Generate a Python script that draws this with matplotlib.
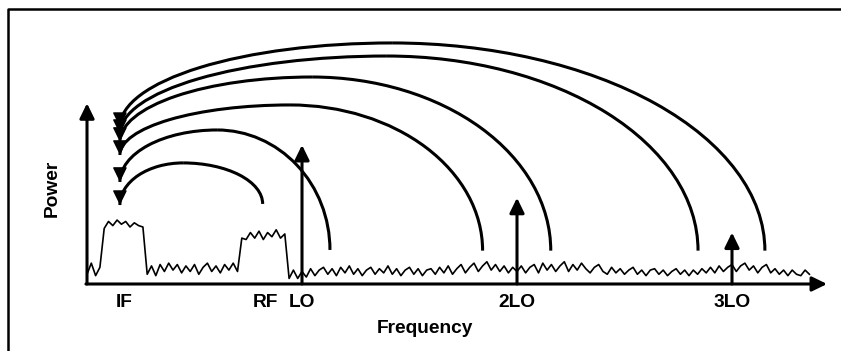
import matplotlib
matplotlib.use("Agg")
import matplotlib.pyplot as plt
import numpy as np
from matplotlib.patches import Arc

plt.rcParams["font.family"] = ["Liberation Sans", "DejaVu Sans"]

# ── Mixer spectrum sketch: IF / RF bands, LO harmonics, products folding to IF ──
# frequency in units of f_LO, power in arbitrary linear units

TRACE_STEP = 0.02
trace_power = [
    0.7, 1.5, 0.6, 1.2, 4.0, 4.5, 4.2, 4.6, 4.3, 4.5,
    4.1, 4.4, 4.2, 4.1, 0.7, 1.3, 0.6, 1.4, 0.9, 1.5,
    1.0, 1.4, 0.8, 1.3, 0.9, 1.4, 0.7, 1.2, 1.5, 0.9,
    1.3, 0.8, 1.4, 1.0, 1.5, 0.9, 3.3, 3.2, 3.7, 3.3,
    3.8, 3.2, 3.7, 3.4, 3.9, 3.3, 3.6, 0.4, 1.0, 0.4,
    0.9, 0.5, 1.1, 0.6, 1.0, 1.2, 0.7, 1.1, 0.6, 1.2,
    0.8, 1.3, 0.7, 1.1, 0.6, 1.0, 1.2, 0.7, 1.1, 0.8,
    1.3, 0.7, 1.1, 0.6, 1.0, 1.2, 0.7, 1.1, 0.6, 1.0,
    1.1, 0.7, 1.2, 0.8, 1.3, 0.7, 1.1, 1.4, 0.8, 1.2,
    1.5, 0.9, 1.3, 1.6, 1.0, 1.4, 0.9, 1.3, 0.8, 1.2,
    0.9, 1.3, 0.8, 1.2, 1.4, 0.8, 1.5, 1.0, 1.4, 0.9,
    1.3, 1.6, 0.9, 1.4, 1.0, 1.5, 1.1, 0.8, 1.2, 1.4,
    0.9, 0.7, 1.2, 0.8, 1.1, 0.7, 1.0, 1.2, 0.7, 1.0,
    0.6, 1.0, 1.1, 0.7, 1.0, 0.6, 0.9, 1.1, 0.7, 1.0,
    0.6, 1.0, 0.7, 1.1, 0.8, 1.2, 0.8, 1.3, 0.9, 1.2,
    1.4, 0.9, 1.3, 1.5, 1.0, 1.3, 0.8, 1.2, 1.4, 0.8,
    1.1, 0.7, 1.0, 0.6, 1.0, 0.7, 0.6, 1.0, 0.7,
]

band_labels = ["IF", "RF"]
band_center = [0.175, 0.828]

tone_labels = ["LO", "2LO", "3LO"]
tone_freq = [1.0, 2.0, 3.0]
tone_power = [10.0, 6.2, 3.7]

# products that land on IF: RF, LO+IF, 2LO-IF, 2LO+IF, 3LO-IF, 3LO+IF
arc_src_f = [0.817, 1.13, 1.84, 2.157, 2.842, 3.153]
arc_src_p = [5.76, 2.45, 2.4, 2.4, 2.4, 2.4]
arc_peak_f = [0.447, 0.605, 0.944, 1.047, 1.395, 1.419]
arc_peak_p = [8.71, 11.08, 12.88, 14.89, 16.4, 17.34]
arc_dst_f = [0.153, 0.153, 0.153, 0.153, 0.153, 0.153]
arc_dst_p = [5.68, 7.34, 9.28, 10.22, 10.79, 11.29]

FREQ_MAX = 3.442
POWER_MAX = 13.0

LW = 2.2
HEAD = "-|>,head_length=0.45,head_width=0.22"

fig = plt.figure(figsize=(8.41, 3.51), dpi=100)
ax = fig.add_axes([0, 0, 1, 1])
ax.set_xlim(-0.4047, 3.507)
ax.set_ylim(-4.82, 20.43)
ax.axis("off")

# outer frame (only left and top edges fall inside the canvas)
ax.plot([0.0095, 0.0095, 1.01], [-0.01, 0.974, 0.974], transform=ax.transAxes,
        color="black", lw=1.8, clip_on=False)

# spectrum trace
trace_freq = np.arange(len(trace_power)) * TRACE_STEP
ax.plot(trace_freq, trace_power, color="black", lw=1.2, zorder=2)

# axes as arrows
arrow_kw = dict(arrowstyle=HEAD, color="black", lw=LW, shrinkA=0, shrinkB=0,
                mutation_scale=20)
ax.annotate("", xy=(0, POWER_MAX), xytext=(0, 0), arrowprops=arrow_kw)
ax.annotate("", xy=(FREQ_MAX, 0), xytext=(-0.005, 0), arrowprops=arrow_kw)

# LO harmonics
for f, p in zip(tone_freq, tone_power):
    ax.annotate("", xy=(f, p), xytext=(f, 0), arrowprops=arrow_kw, zorder=4)

# each arc is two quarter ellipses meeting at the peak
for sf, sp, pf, pp, df, dp in zip(arc_src_f, arc_src_p, arc_peak_f,
                                  arc_peak_p, arc_dst_f, arc_dst_p):
    right = Arc((pf, sp), 2 * (sf - pf), 2 * (pp - sp), theta1=0, theta2=90,
                color="black", lw=LW, zorder=3)
    left = Arc((pf, dp), 2 * (pf - df), 2 * (pp - dp), theta1=90, theta2=180,
               color="black", lw=LW, zorder=3)
    ax.add_patch(right)
    ax.add_patch(left)
    ax.annotate("", xy=(df, dp), xytext=(df, dp + 0.3),
                arrowprops=dict(arrowstyle=HEAD, color="black", lw=1.0,
                                shrinkA=0, shrinkB=0, mutation_scale=20))

# labels under the frequency axis
for lab, f in zip(band_labels + tone_labels, band_center + tone_freq):
    ax.text(f, -1.62, lab, ha="center", va="baseline", fontsize=13.8,
            fontweight="bold")

ax.text(1.572, -3.53, "Frequency", ha="center", va="baseline", fontsize=13.8,
        fontweight="bold")
ax.text(-0.163, 6.9, "Power", ha="center", va="center", rotation=90,
        fontsize=13.8, fontweight="bold")

fig.savefig("out.png", dpi=100)
